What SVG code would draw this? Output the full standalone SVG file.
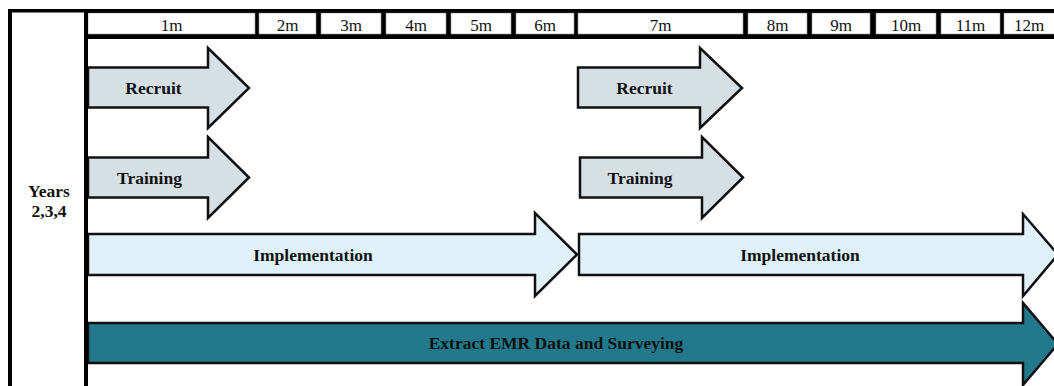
<svg xmlns="http://www.w3.org/2000/svg" width="1054" height="386" viewBox="0 0 1054 386">
<style>
.hdr{font-family:"Liberation Serif","Times New Roman",serif;font-size:17px;fill:#111;text-anchor:middle}
.lbl{font-family:"Liberation Serif","Times New Roman",serif;font-size:17.5px;font-weight:bold;fill:#111;text-anchor:middle}
.cell{fill:#fff;stroke:#999;stroke-width:0.6}
.arr{stroke:#111;stroke-width:2.5;stroke-linejoin:miter}
.gray{fill:#d6dfe3}
.light{fill:#dff1f9}
.teal{fill:#21798b}
</style>
<rect x="0" y="0" width="1054" height="386" fill="#fff"/>
<g id="header">
<rect x="84" y="9" width="970" height="30" fill="#000"/>
<rect class="cell" x="88" y="13" width="167" height="21"/>
<rect class="cell" x="259" y="13" width="57" height="21"/>
<rect class="cell" x="321" y="13" width="60" height="21"/>
<rect class="cell" x="386" y="13" width="60" height="21"/>
<rect class="cell" x="451" y="13" width="60" height="21"/>
<rect class="cell" x="516" y="13" width="58" height="21"/>
<rect class="cell" x="578" y="13" width="165" height="21"/>
<rect class="cell" x="748" y="13" width="59" height="21"/>
<rect class="cell" x="812" y="13" width="58" height="21"/>
<rect class="cell" x="876" y="13" width="60" height="21"/>
<rect class="cell" x="941" y="13" width="59" height="21"/>
<rect class="cell" x="1004" y="13" width="52" height="21"/>
<text class="hdr" x="171.5" y="31">1m</text>
<text class="hdr" x="287.5" y="31">2m</text>
<text class="hdr" x="351" y="31">3m</text>
<text class="hdr" x="416" y="31">4m</text>
<text class="hdr" x="481" y="31">5m</text>
<text class="hdr" x="545" y="31">6m</text>
<text class="hdr" x="660.5" y="31">7m</text>
<text class="hdr" x="777.5" y="31">8m</text>
<text class="hdr" x="841" y="31">9m</text>
<text class="hdr" x="906" y="31">10m</text>
<text class="hdr" x="970.5" y="31">11m</text>
<text class="hdr" x="1029" y="31">12m</text>
</g>
<g id="recruit1">
<path class="arr gray" d="M88,67.5 H208 V48 L249,88 L208,128 V107.5 H88 Z"/>
<text class="lbl" x="153.5" y="93.5">Recruit</text>
</g>
<g id="recruit2">
<path class="arr gray" d="M578,67.5 H700 V48 L742,88 L700,128 V107.5 H578 Z"/>
<text class="lbl" x="644.5" y="93.5">Recruit</text>
</g>
<g id="training1">
<path class="arr gray" d="M88,157.5 H208 V137 L249,177.5 L208,218 V197.5 H88 Z"/>
<text class="lbl" x="149.5" y="184">Training</text>
</g>
<g id="training2">
<path class="arr gray" d="M580,157.5 H702 V137 L743,177.5 L702,218 V197.5 H580 Z"/>
<text class="lbl" x="640" y="184">Training</text>
</g>
<g id="impl1">
<path class="arr light" d="M88,234 H535 V213 L577,254.5 L535,296 V275 H88 Z"/>
<text class="lbl" x="313" y="261">Implementation</text>
</g>
<g id="impl2">
<path class="arr light" d="M579,234 H1023 V214 L1058,254.5 L1023,296 V275 H579 Z"/>
<text class="lbl" x="800" y="261">Implementation</text>
</g>
<g id="emr">
<path class="arr teal" d="M88,323 H1023 V303 L1058,344 L1023,385 V363 H88 Z"/>
<text class="lbl" x="556" y="348.5">Extract EMR Data and Surveying</text>
</g>
<g id="years">
<text class="lbl" x="49" y="197">Years</text>
<text class="lbl" x="49" y="216.5">2,3,4</text>
</g>
<g id="frame">
<rect x="8" y="9" width="1046" height="3.5" fill="#000"/>
<rect x="8" y="9" width="4" height="377" fill="#000"/>
<rect x="84" y="9" width="4" height="377" fill="#000"/>
</g>
</svg>
